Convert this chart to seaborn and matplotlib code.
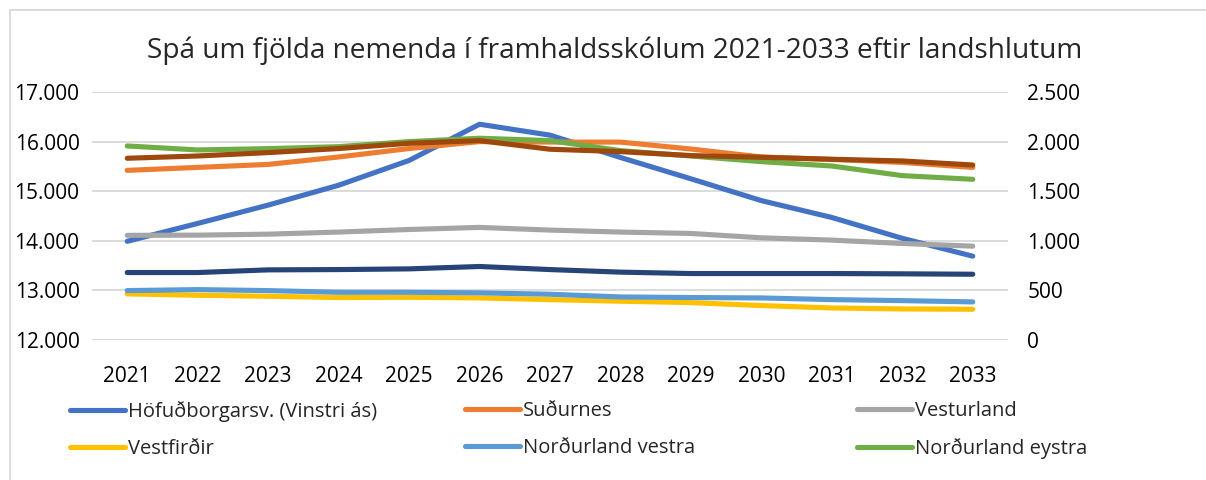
import pandas as pd
import matplotlib.pyplot as plt
import seaborn as sns
from matplotlib.ticker import FuncFormatter, MultipleLocator
from matplotlib.lines import Line2D
from matplotlib.patches import Rectangle

# ár (flokkar á x-ás)
years = [2021, 2022, 2023, 2024, 2025, 2026, 2027, 2028, 2029, 2030, 2031, 2032, 2033]

# vinstri ás
hofudborgarsv = [13990, 14350, 14720, 15120, 15620, 16350, 16130, 15680, 15250, 14810, 14470, 14050, 13690]

# hægri ás
sudurnes = [1710, 1740, 1770, 1845, 1930, 2000, 1995, 1995, 1925, 1845, 1820, 1790, 1740]
vesturland = [1055, 1057, 1067, 1088, 1114, 1135, 1108, 1088, 1074, 1030, 1007, 973, 946]
vestfirdir = [465, 451, 441, 428, 431, 424, 407, 391, 377, 347, 323, 313, 310]
nordurland_vestra = [498, 508, 498, 481, 481, 475, 461, 434, 428, 424, 407, 397, 384]
nordurland_eystra = [1956, 1916, 1929, 1949, 2000, 2034, 2010, 1909, 1855, 1798, 1754, 1657, 1620]
austurland = [680, 680, 707, 710, 717, 741, 710, 684, 670, 670, 670, 667, 663]
sudurland = [1832, 1855, 1889, 1930, 1983, 2010, 1923, 1899, 1859, 1842, 1822, 1805, 1764]

left_name = 'Höfuðborgarsv. (Vinstri ás)'
right_names = ['Suðurnes', 'Vesturland', 'Vestfirðir', 'Norðurland vestra',
               'Norðurland eystra', 'Austurland', 'Suðurland']
right_values = [sudurnes, vesturland, vestfirdir, nordurland_vestra,
                nordurland_eystra, austurland, sudurland]

colors = {left_name: '#4472C4', 'Suðurnes': '#ED7D31', 'Vesturland': '#A5A5A5',
          'Vestfirðir': '#FFC000', 'Norðurland vestra': '#5B9BD5',
          'Norðurland eystra': '#70AD47', 'Austurland': '#264478', 'Suðurland': '#9E480E'}

rows = []
for name, vals in zip(right_names, right_values):
    for y, v in zip(years, vals):
        rows.append({'Ár': y, 'Fjöldi': v, 'Landshluti': name})
df = pd.DataFrame(rows)

sns.set_style('white')
plt.rcParams['font.family'] = ['Open Sans', 'DejaVu Sans']

fig = plt.figure(figsize=(12.06, 4.8), dpi=100)
ax = fig.add_axes([92/1206, 140/480, 916/1206, 248/480])
ax2 = ax.twinx()

lw = 3.7
sns.lineplot(x=years, y=hofudborgarsv, ax=ax, color=colors[left_name], lw=lw,
             solid_capstyle='round', solid_joinstyle='round')
sns.lineplot(data=df, x='Ár', y='Fjöldi', hue='Landshluti', hue_order=right_names,
             palette=colors, ax=ax2, lw=lw, legend=False,
             solid_capstyle='round', solid_joinstyle='round')

thousands = FuncFormatter(lambda v, p: f'{v:,.0f}'.replace(',', '.'))
ax.set_ylim(12000, 17000)
ax2.set_ylim(0, 2500)
ax.yaxis.set_major_locator(MultipleLocator(1000))
ax2.yaxis.set_major_locator(MultipleLocator(500))
ax.yaxis.set_major_formatter(thousands)
ax2.yaxis.set_major_formatter(thousands)
ax.set_xlim(2020.5, 2033.5)
ax.set_xticks(years)

ax.grid(axis='y', color='#D9D9D9', lw=1.3)
ax.grid(axis='x', visible=False)
ax2.grid(False)
ax.set_axisbelow(True)
for a in (ax, ax2):
    for s in a.spines.values():
        s.set_visible(False)
    a.set_xlabel('')
    a.set_ylabel('')
ax.tick_params(axis='y', length=0, pad=9, labelsize=15, colors='black')
ax.tick_params(axis='x', length=0, pad=19, labelsize=15, colors='black')
ax2.tick_params(axis='y', length=0, pad=14, labelsize=15, colors='black')

fig.text(615/1206, 1 - 51/480, 'Spá um fjölda nemenda í framhaldsskólum 2021-2033 eftir landshlutum',
         ha='center', va='center', fontsize=20.2)

# þjóðsaga í þremur dálkum
columns = [[left_name, 'Vestfirðir'], ['Suðurnes', 'Norðurland vestra'],
           ['Vesturland', 'Norðurland eystra']]
col_x = [70, 465, 857]
for names, x in zip(columns, col_x):
    handles = [Line2D([], [], color=colors[n], lw=lw, solid_capstyle='round') for n in names]
    fig.legend(handles, names, loc='upper left', bbox_to_anchor=(x/1206, 1 - 401/480),
               frameon=False, fontsize=14.5, handlelength=2.75, handletextpad=0.15,
               labelspacing=0.85, borderpad=0, borderaxespad=0)

fig.patches.append(Rectangle((10/1206, -0.1), 1.2, (470/480) + 0.1, transform=fig.transFigure,
                             fill=False, edgecolor='#D9D9D9', lw=1.3))

fig.savefig('out.png', dpi=100)
